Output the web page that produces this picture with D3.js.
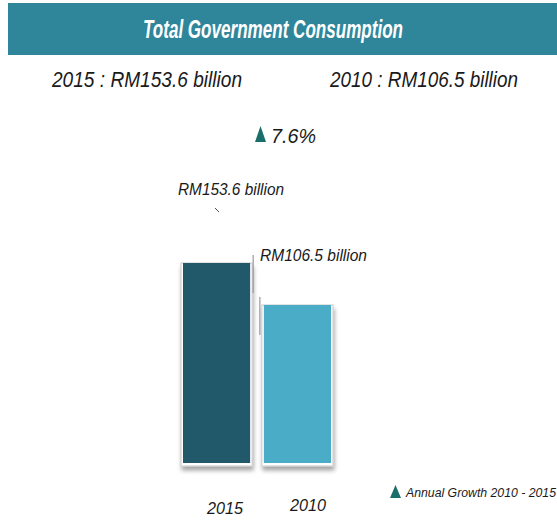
<!DOCTYPE html>
<html><head><meta charset="utf-8">
<script src="https://cdn.jsdelivr.net/npm/d3@7"></script>
<style>body{margin:0;background:#fff;} svg{display:block;font-family:"Liberation Sans",Arial,sans-serif;}</style>
</head><body>
<svg id="c" width="557" height="528"></svg>
<script>
const title = "Total Government Consumption";
const categories = ["2015", "2010"];
const values = [153.6, 106.5];
const valueLabels = ["RM153.6 billion", "RM106.5 billion"];
const summaryLabels = ["2015 : RM153.6 billion", "2010 : RM106.5 billion"];
const growthLabel = "7.6%";
const legendLabel = "Annual Growth 2010 - 2015";
const barColors = ["#22596a", "#4aacc6"];

const svg = d3.select("#c");
const defs = svg.append("defs");
const f = defs.append("filter").attr("id","sh").attr("x","-10%").attr("y","-10%").attr("width","130%").attr("height","130%");
f.append("feDropShadow").attr("dx",1).attr("dy",4).attr("stdDeviation",2).attr("flood-color","#000").attr("flood-opacity",0.35);

function txt(x, y, s, size, len, opts={}) {
  const t = svg.append("text").attr("x",x).attr("y",y).attr("font-size",size).attr("font-style","italic")
    .attr("fill",opts.fill||"#1a1a1a").text(s);
  if (opts.bold) t.attr("font-weight","bold");
  if (opts.anchor) t.attr("text-anchor",opts.anchor);
  if (len) t.attr("textLength",len).attr("lengthAdjust","spacingAndGlyphs");
  return t;
}

// header
svg.append("rect").attr("x",8).attr("y",3).attr("width",549).attr("height",52).attr("fill","#2f869a");
txt(143, 38, title, 25, 260, {fill:"#fff", bold:true});

// summary line
txt(52, 87, summaryLabels[0], 22, 190);
txt(330, 87, summaryLabels[1], 22, 188);

// growth
svg.append("path").attr("d","M255,142 L260.5,126 L266,142 Z").attr("fill","#1b6e6b");
txt(271, 143, growthLabel, 21, 45);

// scales
const x = d3.scaleBand().domain(categories).range([181, 333]).paddingInner(0.12).paddingOuter(0);
const y = d3.scaleLinear().domain([-70.7, 153.6]).range([463, 263]);

const g = svg.append("g");
categories.forEach((c,i)=>{
  const bx = x(c), bw = x.bandwidth(), by = y(values[i]);
  g.append("rect").attr("x",bx).attr("y",by).attr("width",bw).attr("height",y.range()[0]-by+3)
    .attr("fill","#fff").attr("stroke","#c8c8c8").attr("stroke-width",1).attr("filter","url(#sh)");
  g.append("rect").attr("x",bx+2).attr("y",by).attr("width",bw-4).attr("height",y.range()[0]-by)
    .attr("fill",barColors[i]);
  const lx = i === 0 ? bx + bw + 1 : bx - 2;
  g.append("line").attr("x1",lx).attr("x2",lx).attr("y1",by-8).attr("y2",by+30)
    .attr("stroke","#9a9a9a").attr("stroke-width",1.2);
});

// value labels
txt(178, 195, valueLabels[0], 16, 106);
svg.append("line").attr("x1",215).attr("y1",208).attr("x2",219).attr("y2",212).attr("stroke","#555").attr("stroke-width",1);
txt(260, 261, valueLabels[1], 16, 107);

// axis labels
const tickY = [514, 511];
const tickX = [207, 290];
categories.forEach((c,i)=>{
  txt(tickX[i], tickY[i], c, 17, 36);
});

// legend
svg.append("path").attr("d","M390,498 L395.5,485 L401,498 Z").attr("fill","#1b6e6b");
txt(406, 497, legendLabel, 12, 150);
</script>
</body></html>
